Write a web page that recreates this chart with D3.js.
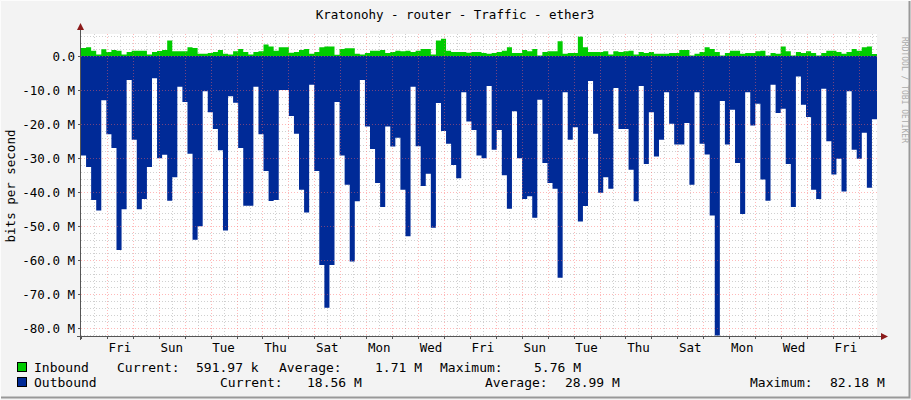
<!DOCTYPE html>
<html><head><meta charset="utf-8">
<script src="https://cdn.jsdelivr.net/npm/d3@7"></script>
<style>body{margin:0;background:#f3f3f3}svg{display:block}</style>
</head><body><svg id="c" width="911" height="400"></svg>
<script>
const inbound = [2.4,2.6,1.6,0.5,2.0,1.2,1.8,1.6,0.5,1.2,1.6,1.6,1.6,0.5,1.2,1.5,1.8,4.6,1.4,1.4,1.4,2.6,2.4,0.7,0.7,0.9,1.2,1.8,0.7,0.5,1.4,2.1,1.2,0.5,1.2,1.4,3.4,2.8,1.6,2.6,
2.6,1.0,1.2,1.8,2.1,0.7,1.2,2.6,2.8,2.8,0.4,2.1,2.3,2.3,0.7,0.5,0.9,1.6,1.6,1.8,0.9,1.2,1.6,1.4,1.6,1.2,1.6,2.1,2.1,0.5,4.6,5.1,1.6,1.2,1.2,1.2,1.0,1.2,1.2,
0.9,0.7,0.9,1.2,1.6,2.6,0.9,0.9,1.8,1.4,2.1,0.2,1.2,1.4,1.4,4.4,0.7,0.9,0.9,5.76,2.6,1.2,1.2,1.2,1.4,0.5,1.4,1.2,1.4,1.6,0.5,1.2,0.9,1.2,0.7,0.7,0.7,0.9,0.9,
1.8,1.8,0.2,0.7,1.2,2.6,2.1,1.2,0.2,0.9,1.6,1.6,0.7,0.9,0.9,1.4,1.6,0.2,0.9,0.7,2.8,1.4,0.2,1.2,0.9,1.4,0.9,0.2,0.9,1.6,1.6,1.2,0.7,1.2,2.1,1.6,2.6,2.8,0.6];
const outbound = [29.2,32.6,42.3,45.4,13,23,27,57,45,7,24.6,45,42,32.6,6.5,30,29,42.5,35.6,9,13.5,28.7,54,50,10.3,16.5,21.4,27.7,51.3,11.8,13.7,27,44,44,9,23,33.8,42.6,42.3,10,
10,17.6,22.8,39.3,46,8.4,33.8,61.4,74,61.4,13.5,29.2,37.8,60.4,42.7,7,20.7,27.3,37.3,44.4,20.7,26.6,24,39.3,53,9,26.5,38.2,34.6,50.5,13.8,22,25.8,32,35.9,10.6,19.2,21.7,29.2,
30,8.8,27.5,21.7,35,44.9,16.2,30,42,41.2,47.5,12.8,31.4,37.3,39,65.2,10.6,24.6,20.9,48.6,44.1,7.3,22.8,40.2,35.6,39,9.4,21.4,21.4,33.4,42.7,8.8,31.7,16.5,29.5,24.6,10.6,19.9,26,
26,19.7,37.8,10.6,25.8,28.9,46.9,82.18,13.2,26,15.8,31.4,46.4,10.6,20.4,14,36.3,42.5,8.4,16.7,15.5,31.7,44.4,6,14.3,17.9,39.3,42,9.6,25,34.8,30.2,39.8,10.3,27.5,30.2,22.5,38.7,18.56];
const dayLabels = ["Fri","Sun","Tue","Thu","Sat","Mon","Wed","Fri","Sun","Tue","Thu","Sat","Mon","Wed","Fri"];
const yTicks = [0,-10,-20,-30,-40,-50,-60,-70,-80];

const svg = d3.select("#c");
const L=81,R=877,T=34,B=336;
const F="DejaVu Sans Mono, monospace";
// frame
svg.append("rect").attr("x",0).attr("y",0).attr("width",911).attr("height",400).attr("fill","#f3f3f3");
svg.append("path").attr("d","M0.5,399.5V0.5H910.5").attr("stroke","#fcfcfc").attr("fill","none");
svg.append("path").attr("d","M1,397.5H909.5V1").attr("stroke","#999").attr("stroke-width",2).attr("fill","none");
svg.append("rect").attr("x",L).attr("y",T).attr("width",R-L).attr("height",B-T).attr("fill","#fff");

const y = d3.scaleLinear().domain([-82.3,6.5]).range([B,T]);
const xd = d3.scaleLinear().domain([-0.5,30.2]).range([L,R]);
const xi = d3.scaleLinear().domain([0,outbound.length]).range([L,R]);

// grids
const g=svg.append("g");
d3.range(-82,7,2).forEach(v=>{ if(v%10===0) return;
  g.append("line").attr("x1",L).attr("x2",R).attr("y1",Math.round(y(v))+.5).attr("y2",Math.round(y(v))+.5).attr("stroke","#d0d0d0").attr("stroke-dasharray","1,2");});
d3.range(0,30.5,1).forEach(d=>{
  g.append("line").attr("x1",Math.round(xd(d))+.5).attr("x2",Math.round(xd(d))+.5).attr("y1",T).attr("y2",B).attr("stroke","#d0d0d0").attr("stroke-dasharray","1,2");});

const n=outbound.length;
const idx=d3.range(n+1);
const val=(a,i)=>a[Math.min(i,n-1)];
svg.append("path").datum(idx).attr("fill","#00cc00")
 .attr("d",d3.area().curve(d3.curveStepAfter).x(i=>xi(i)).y0(y(0)).y1(i=>y(val(inbound,i))));
svg.append("path").datum(idx).attr("fill","#002a97")
 .attr("d",d3.area().curve(d3.curveStepAfter).x(i=>xi(i)).y0(y(0)).y1(i=>y(-val(outbound,i))));

// major grid on top
const mg=svg.append("g");
yTicks.forEach(v=>mg.append("line").attr("x1",L).attr("x2",R).attr("y1",Math.round(y(v))+.5).attr("y2",Math.round(y(v))+.5).attr("stroke","rgba(255,100,100,0.45)").attr("stroke-dasharray","1,2"));
mg.append("line").attr("x1",L).attr("x2",R).attr("y1",Math.round(y(6))+.5).attr("y2",Math.round(y(6))+.5).attr("stroke","#d0d0d0").attr("stroke-dasharray","1,2");
d3.range(0.5,30.5,1).forEach(d=>mg.append("line").attr("x1",Math.round(xd(d))+.5).attr("x2",Math.round(xd(d))+.5).attr("y1",T).attr("y2",B).attr("stroke","rgba(255,100,100,0.45)").attr("stroke-dasharray","1,2"));

// axes
svg.append("line").attr("x1",L-0.5).attr("x2",L-0.5).attr("y1",B+4).attr("y2",T-4).attr("stroke","#555");
svg.append("line").attr("x1",L-4).attr("x2",R+4).attr("y1",B+.5).attr("y2",B+.5).attr("stroke","#555");
svg.append("path").attr("d",`M${L-4},${T-4}L${L-0.5},${T-11}L${L+3},${T-4}Z`).attr("fill","#8b1a1a");
svg.append("path").attr("d",`M${R+4},${B-3}L${R+11},${B+.5}L${R+4},${B+4}Z`).attr("fill","#8b1a1a");
yTicks.forEach(v=>{svg.append("line").attr("x1",L-3).attr("x2",L).attr("y1",Math.round(y(v))+.5).attr("y2",Math.round(y(v))+.5).attr("stroke","#555");
 svg.append("text").attr("x",L-6).attr("y",y(v)+4.5).attr("text-anchor","end").attr("font-family",F).attr("font-size",12.5).attr("fill","#000").text(v===0?"0.0":v.toFixed(1)+" M");});
d3.range(0,31,1).forEach(d=>svg.append("line").attr("x1",Math.round(xd(d-0.5))+.5).attr("x2",Math.round(xd(d-0.5))+.5).attr("y1",B).attr("y2",B+3).attr("stroke","#555"));
dayLabels.forEach((t,i)=>svg.append("text").attr("x",xd(i*2+1)).attr("y",B+16).attr("text-anchor","middle").attr("font-family",F).attr("font-size",12.5).text(t));

// title / labels
svg.append("text").attr("x",455).attr("y",19).attr("text-anchor","middle").attr("font-family",F).attr("font-size",12.5).text("Kratonohy - router - Traffic - ether3");
svg.append("text").attr("transform","translate(15,186) rotate(-90)").attr("text-anchor","middle").attr("font-family",F).attr("font-size",12.5).text("bits per second");
svg.append("text").attr("transform","translate(902,90) rotate(90)").attr("text-anchor","middle").attr("font-family",F).attr("font-size",8).attr("fill","#aaa").text("RRDTOOL / TOBI OETIKER");

// legend
const leg=[["#00cc00",372,[["Inbound",34],["Current:",117],["591.97 k",196],["Average:",279],["1.71 M",375],["Maximum:",440],["5.76 M",534]]],
           ["#002a97",387,[["Outbound",34],["Current:",220],["18.56 M",307],["Average:",485],["28.99 M",565],["Maximum:",750],["82.18 M",830]]]];
leg.forEach(([c,yy,items])=>{
 svg.append("rect").attr("x",17.5).attr("y",yy-9.5).attr("width",9).attr("height",9).attr("fill",c).attr("stroke","#000");
 items.forEach(([t,x])=>svg.append("text").attr("x",x).attr("y",yy).attr("font-family",F).attr("font-size",13).text(t));});
</script></body></html>
